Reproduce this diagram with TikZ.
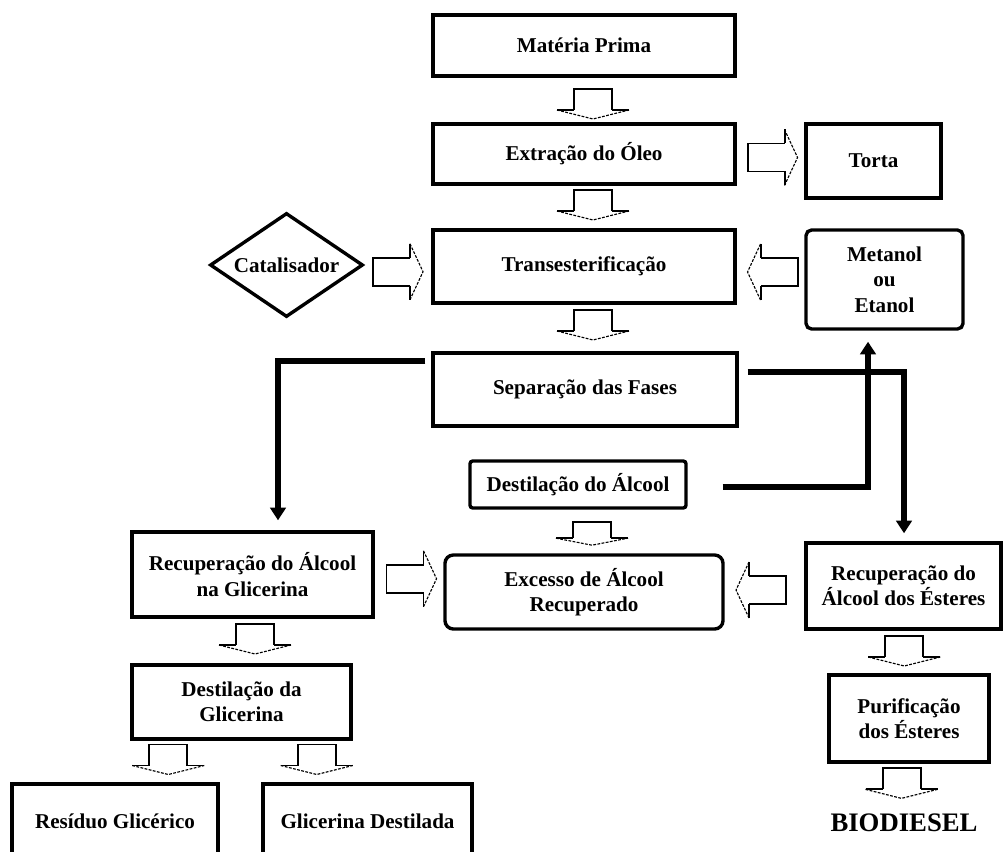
\documentclass[tikz,border=0pt]{standalone}
\usepackage{fontspec}
\setmainfont{Liberation Serif}
\usepackage{tikz}
\usetikzlibrary{shapes.geometric, arrows.meta, calc}
\tikzstyle{box} = [rectangle, draw, line width=2.4pt, align=center, font=\bfseries\fontsize{15}{18}\selectfont]
\tikzstyle{roundbox} = [box, rounded corners=4pt]
\tikzstyle{decision} = [diamond, draw, line width=2.4pt, aspect=1.47, inner sep=0pt, font=\bfseries\fontsize{15}{18}\selectfont]
\tikzstyle{flow} = [-{Triangle[width=11pt,length=9pt]}, line width=4pt]
\tikzstyle{blkline} = [line width=1.4pt]
\tikzstyle{blkhead} = [line width=0.8pt, dash pattern=on 2pt off 1pt]
\tikzset{
  downblk/.pic={
    \draw[blkline] (-19,6) -- (-19,-15) -- (19,-15) -- (19,6);
    \draw[blkline] (-36,6) -- (-19,6) (19,6) -- (36,6);
    \draw[blkhead] (-36,6) -- (0,15) -- (36,6);
  },
  rightblk/.pic={
    \draw[blkline] (12,-14) -- (-25,-14) -- (-25,14) -- (12,14);
    \draw[blkline] (12,-28) -- (12,-14) (12,14) -- (12,28);
    \draw[blkhead] (12,-28) -- (25,0) -- (12,28);
  }
}

\begin{document}
\begin{tikzpicture}[x=0.025cm, y=-0.025cm]
    \useasboundingbox (0,0) rectangle (1003,852);

    % Main column
    \node[box, minimum width=7.55cm, minimum height=1.525cm] (MP) at (584,45.5) {Matéria Prima};
    \node[box, minimum width=7.55cm, minimum height=1.5cm] (EO) at (584,154) {Extração do Óleo};
    \node[box, minimum width=3.375cm, minimum height=1.85cm] (TO) at (873.5,161) {Torta};
    \node[box, minimum width=7.55cm, minimum height=1.825cm] (TR) at (584,266.5) {Transesterificação};
    \node[decision, minimum width=3.825cm, minimum height=2.6cm] (CA) at (286.5,265) {Catalisador};
    \node[roundbox, minimum width=3.925cm, minimum height=2.475cm] (ME) at (884.5,279.5) {Metanol\\ou\\Etanol};
    \node[box, minimum width=7.6cm, minimum height=1.825cm] (SF) at (585,389.5) {Separação das Fases};

    % Alcohol recovery
    \node[roundbox, rounded corners=2pt, minimum width=5.4cm, minimum height=1.175cm] (DA) at (578,484.5) {Destilação do Álcool};
    \node[roundbox, rounded corners=6pt, minimum width=6.95cm, minimum height=1.85cm] (EA) at (584,592) {Excesso de Álcool\\Recuperado};

    % Glycerine branch
    \node[box, minimum width=6.025cm, minimum height=2.125cm] (RG) at (252.5,574.5) {Recuperação do Álcool\\na Glicerina};
    \node[box, minimum width=5.475cm, minimum height=1.85cm] (DG) at (241.5,702) {Destilação da\\Glicerina};
    \node[box, minimum width=5.15cm, minimum height=1.85cm] (RS) at (115,821) {Resíduo Glicérico};
    \node[box, minimum width=5.225cm, minimum height=1.85cm] (GD) at (367.5,821) {Glicerina Destilada};

    % Ester branch
    \node[box, minimum width=4.875cm, minimum height=2.15cm] (RE) at (903.5,586) {Recuperação do\\Álcool dos Ésteres};
    \node[box, minimum width=4cm, minimum height=2.175cm] (PE) at (909,718.5) {Purificação\\dos Ésteres};
    \node[font=\bfseries\fontsize{19}{22}\selectfont] (BD) at (904,823) {BIODIESEL};

    % Block arrows
    \pic at ($(MP.south)!.5!(EO.north)+(9,4)$) {downblk};
    \pic at ($(EO.south)!.5!(TR.north)+(9,-2)$) {downblk};
    \pic at ($(TR.south)!.5!(SF.north)+(8.5,-3)$) {downblk};
    \pic[yscale=.78] at ($(DA.south)!.5!(EA.north)+(11,2)$) {downblk};
    \pic at ($(RG.south)!.5!(DG.north)+(8,-2)$) {downblk};
    \pic at ($(DG.south west)!.5!(DG.south west|-RS.north)+(38,-2)$) {downblk};
    \pic at ($(DG.south east)!.5!(DG.south east|-GD.north)+(-36,-2)$) {downblk};
    \pic at ($(RE.south)!.5!(PE.north)+(-2,-1)$) {downblk};
    \pic at ($(PE.south)!.5!(BD.north)+(-5,-3)$) {downblk};
    \pic at ($(EO.east)!.5!(TO.west)+(2,0)$) {rightblk};
    \pic at ($(CA.east)!.5!(TR.west)+(0,6)$) {rightblk};
    \pic[xscale=-1] at ($(ME.west)!.5!(TR.east)+(2,-1)$) {rightblk};
    \pic at ($(RG.east)!.5!(EA.west)+(2.5,-4.5)$) {rightblk};
    \pic[xscale=-1] at ($(RE.west)!.5!(EA.east)+(-3.5,1)$) {rightblk};

    % Phase lines
    \draw[flow] ($(SF.north west)+(-6,10)$) -| ($(RG.north)+(25.5,-10)$);
    \draw[flow] ($(SF.north east)+(9,21)$) -| ($(RE.north)+(0.5,-8)$);
    \draw[flow] ($(DA.east)+(35,2.5)$) -| ($(ME.south)+(-16.5,11)$);

\end{tikzpicture}
\end{document}
